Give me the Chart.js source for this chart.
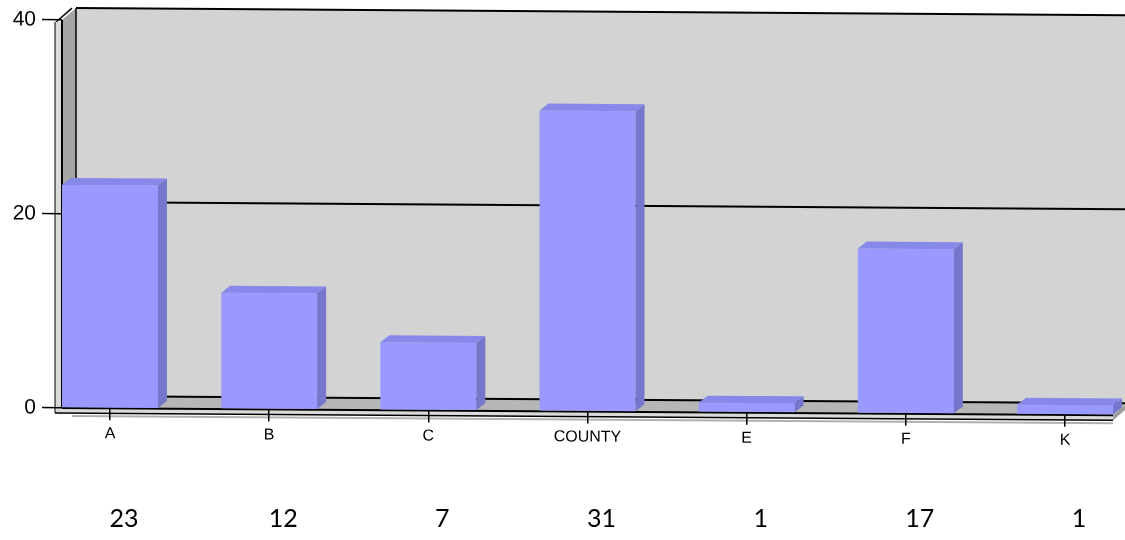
<!DOCTYPE html>
<html>
<head>
<meta charset="utf-8">
<title>Counts by area</title>
<script src="https://cdn.jsdelivr.net/npm/chart.js@4.4.1/dist/chart.umd.min.js"></script>
<style>
  html, body { margin: 0; padding: 0; background: #fff; }
  #wrap { width: 1125px; height: 540px; position: relative; }
</style>
</head>
<body>
<div id="wrap"><canvas id="chart"></canvas></div>
<script>
// Data
const categories = ['A', 'B', 'C', 'COUNTY', 'E', 'F', 'K'];
const counts = [23, 12, 7, 31, 1, 17, 1];
const yTickValues = [0, 20, 40];

// 3D look
const TILT = 0.0068;            // slight downward slope of the whole plot to the right
const WALL_DX = 14, WALL_DY = -12;
const BAR_DX = 9, BAR_DY = -7;
const SLAB = 5;
const COLORS = {
  backWall: '#d3d3d3',
  sideWall: '#a5a5a5',
  floor: '#b6b6b6',
  slab: '#dadada',
  slabEnd: '#9c9c9c',
  barFront: '#9999ff',
  barTop: '#8888ea',
  barSide: '#7676cc'
};

function poly(ctx, pts, fill) {
  ctx.beginPath();
  ctx.moveTo(pts[0][0], pts[0][1]);
  for (let i = 1; i < pts.length; i++) ctx.lineTo(pts[i][0], pts[i][1]);
  ctx.closePath();
  ctx.fillStyle = fill;
  ctx.fill();
}
function line(ctx, x0, y0, x1, y1, w, color) {
  ctx.beginPath();
  ctx.moveTo(x0, y0);
  ctx.lineTo(x1, y1);
  ctx.lineWidth = w;
  ctx.strokeStyle = color || '#000';
  ctx.stroke();
}

function drawWalls(chart) {
  const ctx = chart.ctx;
  const { left: L, right: R, top: T, bottom: B } = chart.chartArea;
  const yScale = chart.scales.y;
  const farRight = chart.width + 30;

  // back wall
  ctx.fillStyle = COLORS.backWall;
  ctx.fillRect(L + WALL_DX, T + WALL_DY, farRight - (L + WALL_DX), B - T);
  // left wall
  poly(ctx, [[L, T], [L + WALL_DX, T + WALL_DY], [L + WALL_DX, B + WALL_DY], [L, B]], COLORS.sideWall);
  // floor
  poly(ctx, [[L, B], [L + WALL_DX, B + WALL_DY], [R + WALL_DX, B + WALL_DY], [R, B]], COLORS.floor);

  // grid lines on the back wall
  yTickValues.forEach(v => {
    const py = yScale.getPixelForValue(v) + WALL_DY;
    line(ctx, L + WALL_DX, py, farRight, py, 2);
  });
  line(ctx, L + WALL_DX, T + WALL_DY, L + WALL_DX, B + WALL_DY, 1.5);
  line(ctx, L - SLAB - 1, T + 2, L + WALL_DX - 4, T + WALL_DY, 1.5);

  // front frame slabs
  ctx.fillStyle = COLORS.slab;
  ctx.fillRect(L - SLAB - 2, T + 2, SLAB + 2, B - T);
  ctx.fillRect(L - SLAB - 2, B, R - L + SLAB + 2, SLAB);
  poly(ctx, [[R, B], [R + WALL_DX, B + WALL_DY], [R + WALL_DX, B + WALL_DY + SLAB], [R, B + SLAB]], COLORS.slabEnd);
  line(ctx, L - SLAB - 2, T + 2, L - SLAB - 2, B + SLAB, 1);
  line(ctx, L, T, L, B, 2);
  line(ctx, L, B, R, B, 2);
  line(ctx, L - SLAB - 2, B + SLAB, R, B + SLAB, 1.5);
  line(ctx, L + 10, B + SLAB + 3, R, B + SLAB + 3, 2, '#b0b0b0');
}

function drawBarDepth(chart) {
  const ctx = chart.ctx;
  const meta = chart.getDatasetMeta(0);
  meta.data.forEach(bar => {
    const { x, y, base, width } = bar.getProps(['x', 'y', 'base', 'width'], true);
    const x0 = x - width / 2, x1 = x + width / 2;
    poly(ctx, [[x0, y], [x0 + BAR_DX, y + BAR_DY], [x1 + BAR_DX, y + BAR_DY], [x1, y]], COLORS.barTop);
    poly(ctx, [[x1, y], [x1 + BAR_DX, y + BAR_DY], [x1 + BAR_DX, base + BAR_DY], [x1, base]], COLORS.barSide);
  });
}

function drawValueRow(chart) {
  const ctx = chart.ctx;
  const xScale = chart.scales.x;
  ctx.save();
  ctx.font = '25px Lato, "Open Sans", sans-serif';
  ctx.fillStyle = '#000';
  ctx.textAlign = 'center';
  ctx.textBaseline = 'middle';
  counts.forEach((v, i) => {
    ctx.fillText(String(v), xScale.getPixelForValue(i) + 14, 519);
  });
  ctx.restore();
}

const depthPlugin = {
  id: 'depth3d',
  beforeDraw(chart) {
    const ctx = chart.ctx;
    ctx.save();
    ctx.transform(1, TILT, 0, 1, 0, -TILT * chart.chartArea.left);
    drawWalls(chart);
  },
  afterDatasetsDraw(chart) {
    drawBarDepth(chart);
  },
  afterDraw(chart) {
    chart.ctx.restore();
    drawValueRow(chart);
  }
};

const xEdge = 0.3015;   // half a bar's worth of room at each end of the axis

new Chart(document.getElementById('chart'), {
  type: 'bar',
  data: {
    datasets: [{
      data: counts.map((v, i) => ({ x: i, y: v })),
      backgroundColor: COLORS.barFront,
      borderWidth: 0,
      categoryPercentage: 1,
      barPercentage: 0.603
    }]
  },
  options: {
    responsive: true,
    maintainAspectRatio: false,
    animation: false,
    layout: { padding: { top: 20, right: 12, bottom: 0, left: 0 } },
    plugins: { legend: { display: false }, tooltip: { enabled: false } },
    scales: {
      x: {
        type: 'linear',
        offset: false,
        min: -xEdge,
        max: categories.length - 1 + xEdge,
        afterBuildTicks: s => { s.ticks = categories.map((_, i) => ({ value: i })); },
        afterFit: s => { s.height = 132; },
        border: { display: false },
        grid: { offset: false, drawOnChartArea: false, drawTicks: true, tickLength: 12, color: '#000', lineWidth: 1.5 },
        ticks: {
          autoSkip: false,
          maxRotation: 0,
          padding: 4,
          color: '#000',
          font: { family: '"Liberation Sans", Arial, sans-serif', size: 16 },
          callback: v => categories[v]
        }
      },
      y: {
        min: 0,
        max: 40,
        afterBuildTicks: s => { s.ticks = yTickValues.map(v => ({ value: v })); },
        afterFit: s => { s.width = 62; },
        border: { display: false },
        grid: { drawOnChartArea: false, drawTicks: true, tickLength: 20, color: '#000', lineWidth: 1.5 },
        ticks: {
          padding: 6,
          color: '#000',
          font: { family: '"Liberation Sans", Arial, sans-serif', size: 21 }
        }
      }
    }
  },
  plugins: [depthPlugin]
});
</script>
</body>
</html>
